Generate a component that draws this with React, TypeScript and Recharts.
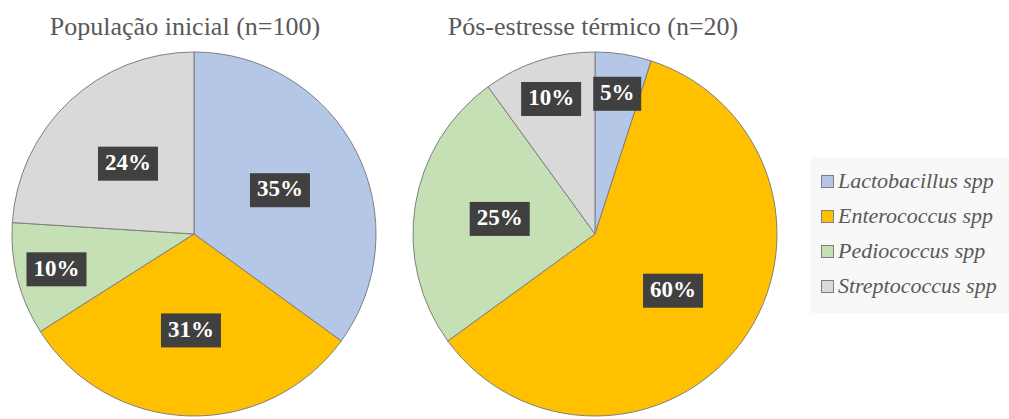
import { Pie, PieChart, Cell } from "recharts";

const species = [
  "Lactobacillus spp",
  "Enterococcus spp",
  "Pediococcus spp",
  "Streptococcus spp",
];
const colors = ["#B4C7E7", "#FFC000", "#C5E0B4", "#D9D9D9"];
const initialValues = [35, 31, 10, 24];
const stressValues = [5, 60, 25, 10];
const titles = ["População inicial (n=100)", "Pós-estresse térmico (n=20)"];

const initialData = species.map((name, i) => ({ name, value: initialValues[i] }));
const stressData = species.map((name, i) => ({ name, value: stressValues[i] }));

const RAD = Math.PI / 180;
const serif = "'Liberation Serif', 'Times New Roman', serif";

function renderLabel(props: any) {
  const { cx, cy, midAngle, outerRadius, value } = props;
  const frac = value <= 10 ? 0.78 : 0.53;
  const r = outerRadius * frac;
  const x = cx + r * Math.cos(-midAngle * RAD);
  const y = cy + r * Math.sin(-midAngle * RAD);
  const text = `${value}%`;
  const w = text.length === 2 ? 48 : 60;
  return (
    <g>
      <rect x={x - w / 2} y={y - 17} width={w} height={34} fill="#404040" />
      <text
        x={x}
        y={y + 1}
        fill="#ffffff"
        textAnchor="middle"
        dominantBaseline="middle"
        fontFamily={serif}
        fontWeight={700}
        fontSize={23}
      >
        {text}
      </text>
    </g>
  );
}

export default function App() {
  return (
    <div
      style={{
        position: "absolute",
        left: 0,
        top: 0,
        width: 1009,
        height: 419,
        background: "#fff",
        fontFamily: serif,
      }}
    >
      <PieChart width={1009} height={419} margin={{ top: 0, right: 0, bottom: 0, left: 0 }}>
        <Pie
          data={initialData}
          dataKey="value"
          cx={194}
          cy={234}
          outerRadius={182}
          startAngle={90}
          endAngle={-270}
          stroke="#7f7f7f"
          strokeWidth={1}
          label={renderLabel}
          labelLine={false}
          isAnimationActive={false}
        >
          {initialData.map((d, i) => (
            <Cell key={d.name} fill={colors[i]} />
          ))}
        </Pie>
        <Pie
          data={stressData}
          dataKey="value"
          cx={595}
          cy={234}
          outerRadius={182}
          startAngle={90}
          endAngle={-270}
          stroke="#7f7f7f"
          strokeWidth={1}
          label={renderLabel}
          labelLine={false}
          isAnimationActive={false}
        >
          {stressData.map((d, i) => (
            <Cell key={d.name} fill={colors[i]} />
          ))}
        </Pie>
      </PieChart>

      {titles.map((t, i) => (
        <div
          key={t}
          style={{
            position: "absolute",
            left: i === 0 ? 185 - 200 : 593 - 200,
            top: 11,
            width: 400,
            textAlign: "center",
            fontSize: 26,
            lineHeight: "32px",
            color: "#595959",
          }}
        >
          {t}
        </div>
      ))}

      <div
        style={{
          position: "absolute",
          left: 810,
          top: 157,
          width: 199,
          height: 156,
          background: "#f8f8f8",
        }}
      >
        {species.map((s, i) => (
          <div
            key={s}
            style={{
              position: "absolute",
              left: 11,
              top: 10 + i * 35,
              height: 28,
              display: "flex",
              alignItems: "center",
              whiteSpace: "nowrap",
            }}
          >
            <span
              style={{
                display: "inline-block",
                width: 11,
                height: 11,
                background: colors[i],
                border: "1px solid #7f7f7f",
                marginRight: 4,
              }}
            />
            <span style={{ fontStyle: "italic", fontSize: 22, color: "#595959" }}>{s}</span>
          </div>
        ))}
      </div>
    </div>
  );
}
